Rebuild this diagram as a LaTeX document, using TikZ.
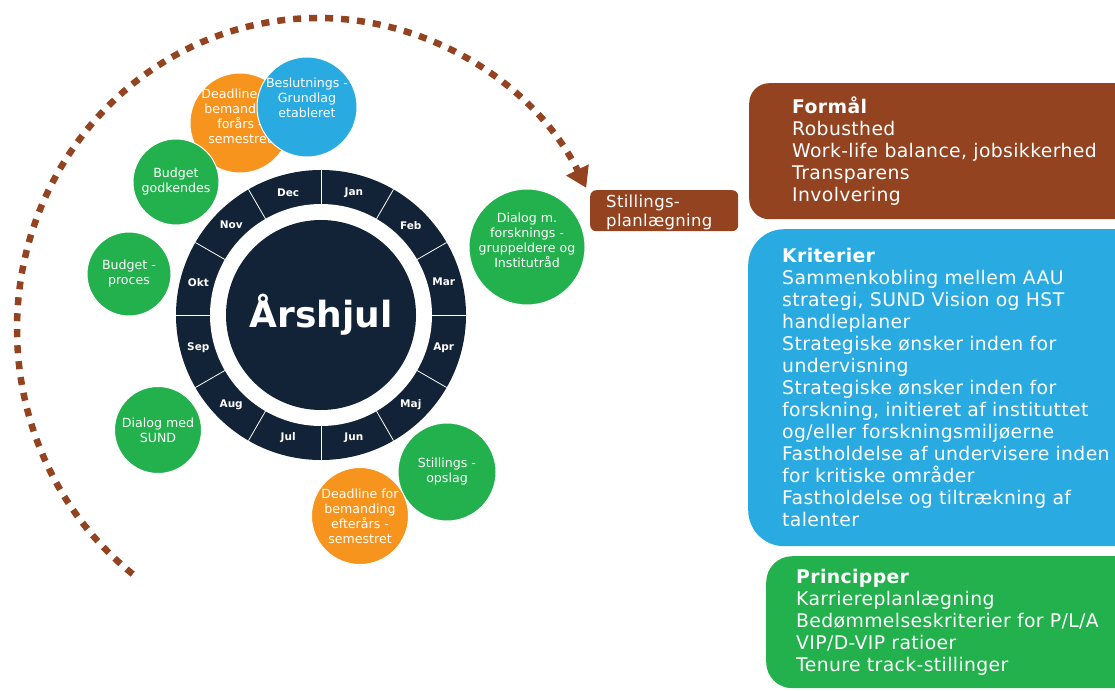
\documentclass[tikz,border=0pt]{standalone}
\usepackage{fontspec}
\setmainfont{DejaVu Sans}
\newfontfamily\boxfont[LetterSpace=2]{DejaVu Sans}
\usetikzlibrary{arrows.meta}

\definecolor{hjulnavy}{HTML}{122237}
\definecolor{hjulbrown}{HTML}{944321}
\definecolor{hjulblue}{HTML}{29ABE2}
\definecolor{hjulgreen}{HTML}{22B14C}
\definecolor{hjulorange}{HTML}{F7941D}

\begin{document}
\begin{tikzpicture}[x=1pt, y=-1pt,
  event/.style={circle, draw=white, line width=1pt, text=white, align=center, inner sep=0pt, font=\fontsize{12.6}{15}\selectfont},
  eventtext/.style={text=white, align=center, inner sep=0pt, font=\fontsize{12.6}{15}\selectfont},
  month/.style={text=white, font=\bfseries\fontsize{10.5}{12}\selectfont},
  infobox/.style={anchor=north west, rounded corners=#1, text=white, align=left, font=\boxfont\fontsize{18.8}{22}\selectfont}]

\useasboundingbox (0,0) rectangle (1115,690);

\coordinate (arcstart) at (132.7,574.1);
\draw [hjulbrown, line width=6.5pt, dash pattern=on 8pt off 8pt, -{Triangle[length=20pt, width=24pt]}] (arcstart) arc [start angle=128, end angle=333, x radius=301, y radius=311];

\node (wheel) at (321,315) [circle, fill=hjulnavy, minimum size=290pt] {};
\node (ring) at (wheel) [circle, fill=white, minimum size=222pt] {};
\node (hub) at (wheel) [circle, fill=hjulnavy, minimum size=190pt, text=white, font=\bfseries\fontsize{36}{40}\selectfont] {Årshjul};

\foreach \i in {0,...,11}
  \draw [white, line width=0.8pt] ([shift={(30*\i-90:111)}]wheel.center) -- ([shift={(30*\i-90:145)}]wheel.center);
\foreach \m [count=\i from 0] in {Jan,Feb,Mar,Apr,Maj,Jun,Jul,Aug,Sep,Okt,Nov,Dec}
  \node (\m) [month] at ([shift={(30*\i-75:127)}]wheel.center) {\m};

\node (forsk) [event, fill=hjulgreen, minimum size=116pt] at (527,247) {};
\node (forsk-txt) [eventtext] at ([yshift=7pt]forsk.center) {Dialog m.\\forsknings -\\gruppeldere og\\Institutråd};
\node (foraar) [event, fill=hjulorange, minimum size=100pt] at (240,123) {};
\node (foraar-txt) [eventtext] at ([yshift=7pt]foraar.center) {Deadline for\\bemanding\\forårs -\\semestret};
\node (beslut) [event, fill=hjulblue, minimum size=100pt] at (307,107) {};
\node (beslut-txt) [eventtext] at ([yshift=9pt]beslut.center) {Beslutnings -\\Grundlag\\etableret};
\node (godkend) [event, fill=hjulgreen, minimum size=86pt] at (176,182) {Budget\\godkendes};
\node (proces) [event, fill=hjulgreen, minimum size=84pt] at (129,274) {Budget -\\proces};
\node (sund) [event, fill=hjulgreen, minimum size=87pt] at (158,430) {Dialog med\\SUND};
\node (opslag) [event, fill=hjulgreen, minimum size=98pt] at (447,472) {Stillings -\\opslag};
\node (efteraar) [event, fill=hjulorange, minimum size=97pt] at (360,516) {Deadline for\\bemanding\\efterårs -\\semestret};

\node (stillplan) [infobox=6pt, fill=hjulbrown, minimum height=41pt, text width=116pt, inner xsep=16pt, inner ysep=0pt, font=\boxfont\fontsize{16.5}{19}\selectfont] at (590,190) {\rule{0pt}{17pt}Stillings-\\planlægning};

\node (formaal) [infobox=20pt, fill=hjulbrown, text width=330pt, inner xsep=43pt, minimum height=136pt] at (749,83) {\textbf{Formål}\\Robusthed\\Work-life balance, jobsikkerhed\\Transparens\\Involvering};

\node (krit) [infobox=36pt, fill=hjulblue, text width=360pt, inner xsep=34pt, minimum height=317pt] at (748,229) {\textbf{Kriterier}\\Sammenkobling mellem AAU\\strategi, SUND Vision og HST\\handleplaner\\Strategiske ønsker inden for\\undervisning\\Strategiske ønsker inden for\\forskning, initieret af instituttet\\og/eller forskningsmiljøerne\\Fastholdelse af undervisere inden\\for kritiske områder\\Fastholdelse og tiltrækning af\\talenter};

\node (princip) [infobox=26pt, fill=hjulgreen, text width=330pt, inner xsep=30pt, minimum height=132pt] at (766,556) {\textbf{Principper}\\Karriereplanlægning\\Bedømmelseskriterier for P/L/A\\VIP/D-VIP ratioer\\Tenure track-stillinger};

\end{tikzpicture}
\end{document}
